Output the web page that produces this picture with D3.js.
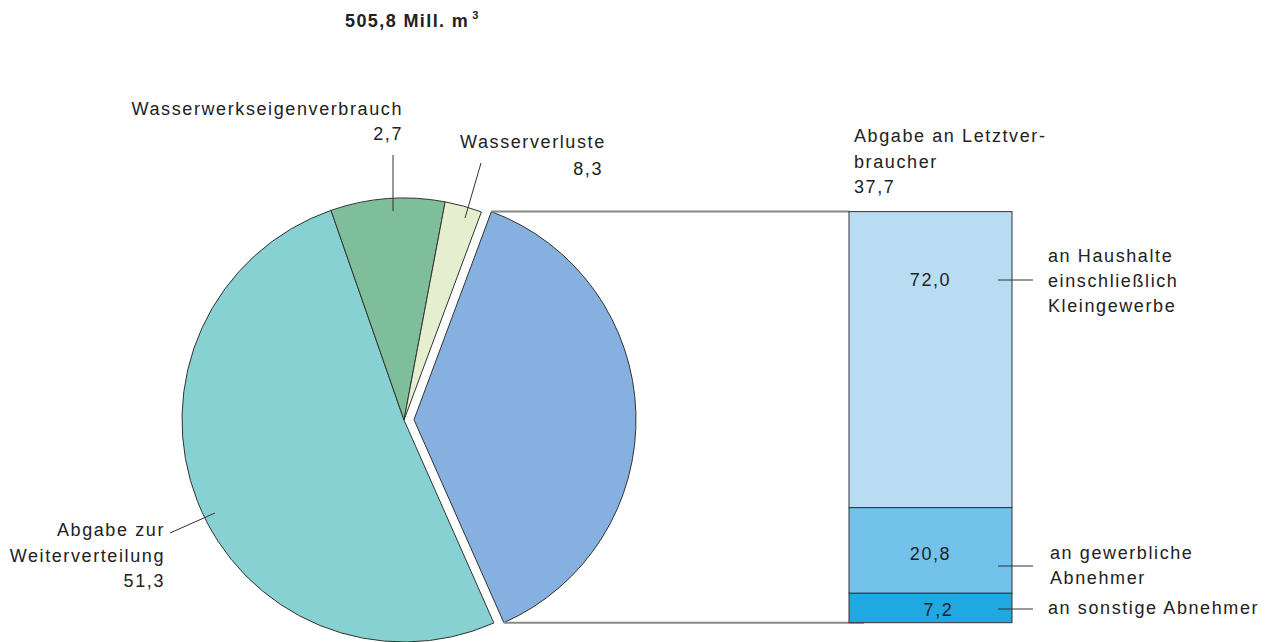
<!DOCTYPE html>
<html>
<head>
<meta charset="utf-8">
<script src="https://cdn.jsdelivr.net/npm/d3@7"></script>
<style>
  body { margin: 0; background: #fff; }
  svg text { font-family: "Liberation Sans", Arial, sans-serif; font-size: 18px; fill: #222; letter-spacing: 1.6px; }
</style>
</head>
<body>
<script>
// pie slices, clockwise from the exploded one
const sliceNames = ['Abgabe an Letztverbraucher', 'Abgabe zur Weiterverteilung', 'Wasserverluste', 'Wasserwerkseigenverbrauch']
const sliceValues = [37.7, 51.3, 8.3, 2.7]
const sliceColors = ['#85b0e0', '#88d1d3', '#7fbe9b', '#e5efd0']

// stacked bar (share of Letztverbraucher), bottom to top
const barNames = ['an sonstige Abnehmer', 'an gewerbliche Abnehmer', 'an Haushalte einschließlich Kleingewerbe']
const barValues = [7.2, 20.8, 72.0]
const barColors = ['#20a8e0', '#73c2ec', '#b8ddf3']

const total = '505,8'

let width = 1276
let height = 642
const fmt = v => d3.format('.1f')(v).replace('.', ',')

const svg = d3.select('body').append('svg')
    .attr('width', width)
    .attr('height', height)

// title
const title = svg.append('text')
    .attr('x', 345).attr('y', 27)
    .style('font-weight', 'bold')
    .style('letter-spacing', '1.4px')
title.append('tspan').text(total + ' Mill. m')
title.append('tspan').text('3').attr('dx', 3).attr('dy', -8).style('font-size', '11px')

// pie
const cx = 404, cy = 420, r = 222
const startDeg = 20.4
const pie = d3.pie().sort(null).value(d => d)
    .startAngle(startDeg * Math.PI / 180)
    .endAngle((startDeg + 360) * Math.PI / 180)
const arcs = pie(sliceValues)
const arc = d3.arc().innerRadius(0).outerRadius(r)

const explode = 10
const g = svg.append('g').attr('transform', `translate(${cx},${cy})`)
g.selectAll('path')
  .data(arcs)
  .join('path')
    .attr('d', arc)
    .attr('fill', (d, i) => sliceColors[i])
    .attr('stroke', '#333')
    .attr('stroke-width', 1)
    .attr('stroke-linejoin', 'round')
    .attr('transform', (d, i) => {
      if (i !== 0) return null
      let a = (d.startAngle + d.endAngle) / 2
      return `translate(${explode * Math.sin(a)},${-explode * Math.cos(a)})`
    })

// connector lines from exploded slice to bar
const ex = arcs[0]
const exA = (ex.startAngle + ex.endAngle) / 2
const ox = cx + explode * Math.sin(exA), oy = cy - explode * Math.cos(exA)
const p0 = [ox + r * Math.sin(ex.startAngle), oy - r * Math.cos(ex.startAngle)]
const p1 = [ox + r * Math.sin(ex.endAngle), oy - r * Math.cos(ex.endAngle)]

// bar
const barX = 849, barW = 163
const y = d3.scaleLinear().domain([0, d3.sum(barValues)]).range([p1[1], p0[1]])
const stacked = []
let acc = 0
barValues.forEach((v, i) => { stacked.push({ v: v, y0: acc, y1: acc + v, i: i }); acc += v })

svg.append('line')
    .attr('x1', p0[0]).attr('y1', p0[1]).attr('x2', barX).attr('y2', p0[1])
    .attr('stroke', '#888').attr('stroke-width', 2)
svg.append('line')
    .attr('x1', p1[0]).attr('y1', p1[1]).attr('x2', barX + 15).attr('y2', p1[1])
    .attr('stroke', '#888').attr('stroke-width', 2)

svg.append('g').selectAll('rect')
  .data(stacked)
  .join('rect')
    .attr('x', barX)
    .attr('y', d => y(d.y1))
    .attr('width', barW)
    .attr('height', d => y(d.y0) - y(d.y1))
    .attr('fill', d => barColors[d.i])
    .attr('stroke', '#333')
    .attr('stroke-width', 1)

// values inside bar
svg.append('g').selectAll('text')
  .data(stacked)
  .join('text')
    .attr('x', d => d.i === 0 ? barX + barW / 2 + 8 : barX + barW / 2)
    .attr('y', d => d.i === 0 ? y(d.y1) + 23 : (d.i === 1 ? y(d.y1) + 52 : y(d.y1) + 74))
    .attr('text-anchor', 'middle')
    .text(d => fmt(d.v))

// bar leader lines and labels
const barLabelLines = [['an sonstige Abnehmer'], ['an gewerbliche', 'Abnehmer'], ['an Haushalte', 'einschließlich', 'Kleingewerbe']]
const leaderY = [609, 566, 280]
const labelY = [614, 559, 262]
stacked.forEach(d => {
  svg.append('line')
      .attr('x1', barX + barW - 14).attr('x2', 1033)
      .attr('y1', leaderY[d.i]).attr('y2', leaderY[d.i])
      .attr('stroke', '#333').attr('stroke-width', 1)
  let t = svg.append('text').attr('x', 1048).attr('y', labelY[d.i])
  barLabelLines[d.i].forEach((s, k) => {
    t.append('tspan').attr('x', 1048 + (d.i === 1 ? 2 : 0)).attr('dy', k === 0 ? 0 : 25).text(s)
  })
})

// pie labels
function label(lines, x, y0, anchor) {
  let t = svg.append('text').attr('x', x).attr('y', y0).attr('text-anchor', anchor)
  lines.forEach((s, k) => t.append('tspan').attr('x', x).attr('dy', k === 0 ? 0 : 25.5).text(s))
}
function leader(x1, y1, x2, y2) {
  svg.append('line').attr('x1', x1).attr('y1', y1).attr('x2', x2).attr('y2', y2)
      .attr('stroke', '#333').attr('stroke-width', 1)
}

label(['Abgabe an Letztver-', 'braucher', fmt(sliceValues[0])], 854, 142, 'start')

label(['Abgabe zur', 'Weiterverteilung'], 165, 536, 'end')
label([fmt(sliceValues[1])], 165, 587, 'end')
leader(170, 533, 215, 513)

// as printed: the green slice carries the Eigenverbrauch label, the pale one Verluste
label(['Wasserwerkseigenverbrauch'], 403, 115, 'end')
label([fmt(sliceValues[3])], 403, 140, 'end')
leader(393, 155, 393, 211)

label(['Wasserverluste'], 460, 148, 'start')
label([fmt(sliceValues[2])], 603, 175, 'end')
leader(481, 163, 465, 218)
</script>
</body>
</html>
